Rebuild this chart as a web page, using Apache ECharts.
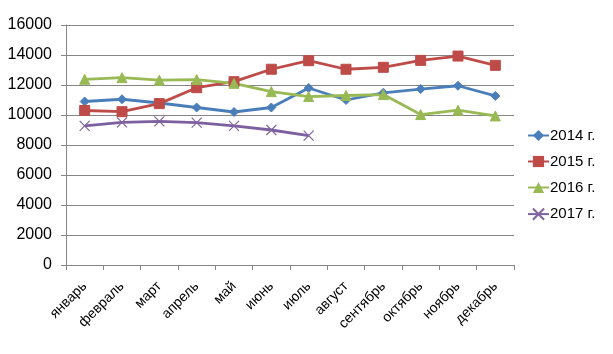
<!DOCTYPE html>
<html><head><meta charset="utf-8">
<script src="https://cdn.jsdelivr.net/npm/echarts@6/dist/echarts.min.js"></script>
<style>html,body{margin:0;padding:0;background:#fff}#c{width:613px;height:354px}</style>
</head><body><div id="c"></div>
<script>
const categories = ['январь','февраль','март','апрель','май','июнь','июль','август','сентябрь','октябрь','ноябрь','декабрь'];
const yTicks = [0,2000,4000,6000,8000,10000,12000,14000,16000];
const s2014 = [10900,11050,10800,10500,10200,10500,11800,11000,11480,11730,11950,11270];
const s2015 = [10300,10220,10760,11820,12220,13050,13620,13050,13180,13640,13930,13310];
const s2016 = [12380,12490,12320,12360,12110,11560,11230,11300,11360,10030,10320,9940];
const s2017 = [9270,9510,9580,9490,9270,9000,8620];
const seriesNames = ['2014 г.','2015 г.','2016 г.','2017 г.'];

const font = '"Liberation Sans", Arial, sans-serif';
const crossPath = 'path://M0,0 L10,10 M10,0 L0,10';
function mk(name, data, color, symbol, size) {
  return {
    name, type: 'line', data, symbol, symbolSize: size,
    lineStyle: {color, width: 2.8},
    itemStyle: {color, borderColor: color},
    emphasis: {disabled: true},
    animation: false
  };
}
const chart = echarts.init(document.getElementById('c'), null, {renderer: 'canvas'});
const s4 = mk(seriesNames[3], s2017, '#7D60A0', crossPath, 10);
s4.itemStyle = {color: 'none', borderColor: '#8064A2', borderWidth: 1.2};
chart.setOption({
  animation: false,
  grid: {left: 66, right: 99, top: 25, bottom: 89},
  legend: {
    orient: 'vertical', left: 527, top: 128, padding: 0, itemGap: 11, itemWidth: 21, itemHeight: 14,
    textStyle: {fontFamily: font, fontSize: 15, color: '#000', padding: [0,0,0,-4]},
    data: seriesNames
  },
  xAxis: {
    type: 'category', data: categories, boundaryGap: true,
    axisLine: {lineStyle: {color: '#868686', width: 1}},
    axisTick: {show: true, length: 5, lineStyle: {color: '#868686'}},
    axisLabel: {rotate: 45, fontFamily: font, fontSize: 14, color: '#000', margin: 19, interval: 0}
  },
  yAxis: {
    type: 'value', min: yTicks[0], max: yTicks[yTicks.length-1], interval: yTicks[1]-yTicks[0],
    axisLine: {show: true, lineStyle: {color: '#868686', width: 1}},
    axisTick: {show: true, length: 5, lineStyle: {color: '#868686'}},
    splitLine: {lineStyle: {color: '#868686', width: 1}},
    axisLabel: {fontFamily: font, fontSize: 16, color: '#000', margin: 14, formatter: v => String(v)}
  },
  series: [
    mk(seriesNames[0], s2014, '#4A7EBB', 'diamond', 9),
    mk(seriesNames[1], s2015, '#BE4B48', 'rect', 10),
    mk(seriesNames[2], s2016, '#98B954', 'triangle', 10),
    s4
  ]
});
</script></body></html>
